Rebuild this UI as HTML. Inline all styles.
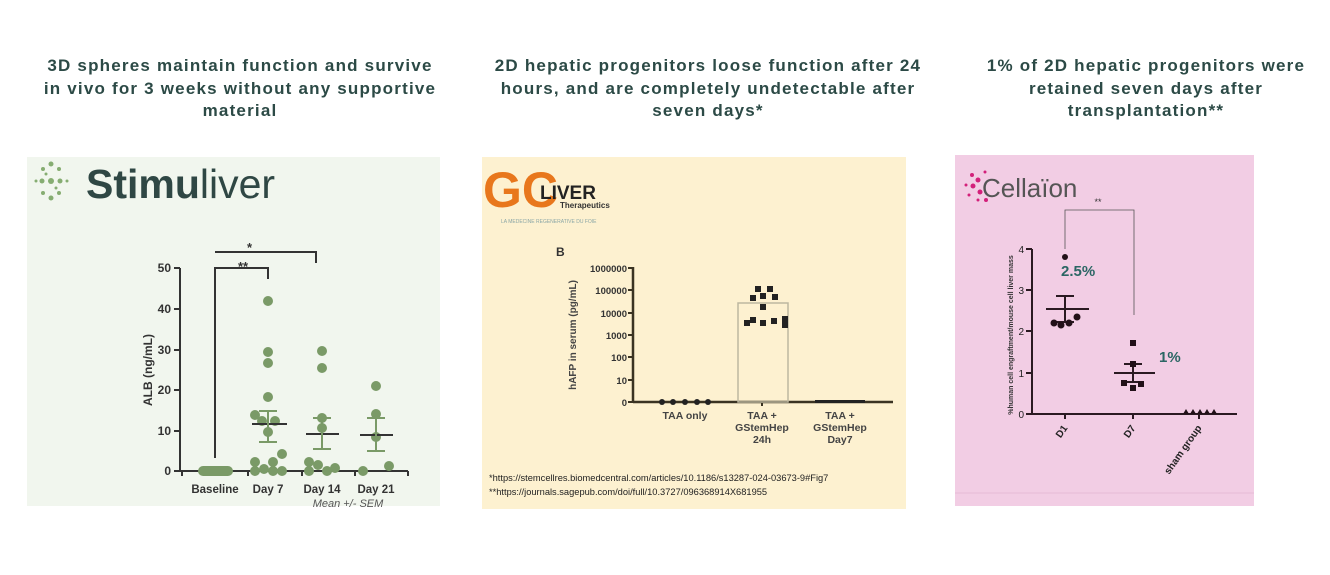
<!DOCTYPE html>
<html><head><style>
body{margin:0;width:1330px;height:575px;background:#fff;overflow:hidden;font-family:"Liberation Sans",sans-serif}
.t{position:absolute;text-align:center;font-weight:bold;font-size:17px;line-height:22.5px;color:#2c4a46;letter-spacing:1.2px}
</style></head><body>
<div class="t" style="left:40px;top:55px;width:400px">3D spheres maintain function and survive in vivo for 3 weeks without any supportive material</div>
<div class="t" style="left:491px;top:55px;width:434px">2D hepatic progenitors loose function after 24 hours, and are completely undetectable after seven days*</div>
<div class="t" style="left:976px;top:55px;width:340px">1% of 2D hepatic progenitors were retained seven days after transplantation**</div>
<svg width="1330" height="575" style="position:absolute;left:0;top:0" font-family="Liberation Sans, sans-serif">
<!-- Panel 1 -->
<rect x="27" y="157" width="413" height="349" fill="#f1f6ee"/>
<g fill="#86ad72">
<circle cx="51" cy="164" r="2.5"/><circle cx="43" cy="169" r="2"/><circle cx="59" cy="169" r="2"/><circle cx="42" cy="181" r="2.5"/><circle cx="51" cy="181" r="3"/><circle cx="60" cy="181" r="2.5"/><circle cx="36" cy="181" r="1.5"/><circle cx="67" cy="181" r="1.5"/><circle cx="43" cy="193" r="2"/><circle cx="59" cy="193" r="2"/><circle cx="51" cy="198" r="2.5"/><circle cx="46" cy="174" r="1.5"/><circle cx="56" cy="188" r="1.5"/>
</g>
<text x="86" y="198" font-size="41" font-weight="bold" fill="#2f4744">Stimu<tspan font-weight="normal">liver</tspan></text>
<g stroke="#333" stroke-width="2" fill="none">
<line x1="180" y1="268" x2="180" y2="472"/><line x1="180" y1="471" x2="408" y2="471"/>
<line x1="174" y1="268" x2="180" y2="268"/><line x1="174" y1="309" x2="180" y2="309"/><line x1="174" y1="350" x2="180" y2="350"/><line x1="174" y1="390" x2="180" y2="390"/><line x1="174" y1="431" x2="180" y2="431"/><line x1="174" y1="471" x2="180" y2="471"/>
<line x1="182" y1="471" x2="182" y2="476"/><line x1="248" y1="471" x2="248" y2="476"/><line x1="302" y1="471" x2="302" y2="476"/><line x1="355" y1="471" x2="355" y2="476"/><line x1="408" y1="471" x2="408" y2="476"/>
<polyline points="215,458 215,268 268,268 268,279"/>
<polyline points="215,252 316,252 316,263"/>
</g>
<g font-size="12" font-weight="bold" fill="#333" text-anchor="end">
<text x="171" y="272">50</text><text x="171" y="313">40</text><text x="171" y="354">30</text><text x="171" y="394">20</text><text x="171" y="435">10</text><text x="171" y="475">0</text>
</g>
<text x="247" y="252" font-size="13" font-weight="bold" fill="#333">*</text>
<text x="238" y="271" font-size="13" font-weight="bold" fill="#333">**</text>
<text transform="translate(152,370) rotate(-90)" font-size="12" font-weight="bold" fill="#333" text-anchor="middle">ALB (ng/mL)</text>
<g font-size="11.5" font-weight="bold" fill="#333" text-anchor="middle">
<text x="215" y="493">Baseline</text><text x="268" y="493">Day 7</text><text x="322" y="493">Day 14</text><text x="376" y="493">Day 21</text>
</g>
<text x="348" y="507" font-size="11" font-style="italic" fill="#555" text-anchor="middle">Mean +/- SEM</text>
<g fill="#7a9a67">
<rect x="198" y="466" width="35" height="10" rx="5"/>
<circle cx="268" cy="301" r="5"/><circle cx="268" cy="352" r="5"/><circle cx="268" cy="363" r="5"/><circle cx="268" cy="397" r="5"/><circle cx="255" cy="415" r="5"/><circle cx="262" cy="421" r="5"/><circle cx="275" cy="421" r="5"/><circle cx="268" cy="432" r="5"/><circle cx="282" cy="454" r="5"/><circle cx="255" cy="462" r="5"/><circle cx="273" cy="462" r="5"/><circle cx="255" cy="471" r="5"/><circle cx="264" cy="469" r="5"/><circle cx="273" cy="471" r="5"/><circle cx="282" cy="471" r="5"/>
<circle cx="322" cy="351" r="5"/><circle cx="322" cy="368" r="5"/><circle cx="322" cy="418" r="5"/><circle cx="322" cy="428" r="5"/><circle cx="309" cy="462" r="5"/><circle cx="318" cy="465" r="5"/><circle cx="335" cy="468" r="5"/><circle cx="309" cy="471" r="5"/><circle cx="327" cy="471" r="5"/>
<circle cx="376" cy="386" r="5"/><circle cx="376" cy="414" r="5"/><circle cx="376" cy="437" r="5"/><circle cx="389" cy="466" r="5"/><circle cx="363" cy="471" r="5"/>
</g>
<g stroke="#333" stroke-width="2"><line x1="252" y1="424" x2="287" y2="424"/><line x1="306" y1="434" x2="339" y2="434"/><line x1="360" y1="435" x2="393" y2="435"/></g>
<g stroke="#7a9a67" stroke-width="2"><line x1="268" y1="411" x2="268" y2="442"/><line x1="259" y1="411" x2="277" y2="411"/><line x1="259" y1="442" x2="277" y2="442"/>
<line x1="322" y1="418" x2="322" y2="449"/><line x1="313" y1="418" x2="331" y2="418"/><line x1="313" y1="449" x2="331" y2="449"/>
<line x1="376" y1="418" x2="376" y2="451"/><line x1="367" y1="418" x2="385" y2="418"/><line x1="367" y1="451" x2="385" y2="451"/></g>
<!-- Panel 2 -->
<rect x="482" y="157" width="424" height="352" fill="#fdf1d0"/>
<text x="483" y="207" font-size="50" font-weight="bold" fill="#e8771c">GC</text>
<text x="540" y="199" font-size="19" font-weight="bold" fill="#222">LIVER</text>
<text x="560" y="208" font-size="8" font-weight="bold" fill="#333">Therapeutics</text>
<text x="501" y="223" font-size="5" fill="#8aa6a6">LA MEDECINE REGENERATIVE DU FOIE</text>
<text x="556" y="256" font-size="12" font-weight="bold" fill="#333">B</text>
<g stroke="#3a3322" stroke-width="2.5" fill="none">
<line x1="633" y1="267" x2="633" y2="403"/><line x1="633" y1="402" x2="893" y2="402"/>
</g>
<g stroke="#3a3322" stroke-width="2"><line x1="628" y1="268" x2="634" y2="268"/><line x1="628" y1="290" x2="634" y2="290"/><line x1="628" y1="313" x2="634" y2="313"/><line x1="628" y1="335" x2="634" y2="335"/><line x1="628" y1="357" x2="634" y2="357"/><line x1="628" y1="380" x2="634" y2="380"/><line x1="628" y1="402" x2="634" y2="402"/><line x1="762" y1="402" x2="762" y2="406"/></g>
<g font-size="9.5" font-weight="bold" fill="#333" text-anchor="end">
<text x="627" y="272">1000000</text><text x="627" y="294">100000</text><text x="627" y="317">10000</text><text x="627" y="339">1000</text><text x="627" y="361">100</text><text x="627" y="384">10</text><text x="627" y="406">0</text>
</g>
<text transform="translate(576,335) rotate(-90)" font-size="10" font-weight="bold" fill="#444" text-anchor="middle">hAFP in serum (pg/mL)</text>
<rect x="738" y="303" width="50" height="99" fill="none" stroke="#bdb7a0" stroke-width="1.5"/>
<g fill="#222">
<circle cx="662" cy="402" r="3"/><circle cx="673" cy="402" r="3"/><circle cx="685" cy="402" r="3"/><circle cx="697" cy="402" r="3"/><circle cx="708" cy="402" r="3"/>
<rect x="755" y="286" width="6" height="6"/><rect x="767" y="286" width="6" height="6"/><rect x="750" y="295" width="6" height="6"/><rect x="760" y="293" width="6" height="6"/><rect x="772" y="294" width="6" height="6"/><rect x="760" y="304" width="6" height="6"/>
<rect x="744" y="320" width="6" height="6"/><rect x="750" y="317" width="6" height="6"/><rect x="760" y="320" width="6" height="6"/><rect x="771" y="318" width="6" height="6"/><rect x="782" y="316" width="6" height="6"/><rect x="782" y="322" width="6" height="6"/>
<rect x="815" y="400" width="50" height="3"/>
</g>
<g font-size="10.5" font-weight="bold" fill="#444" text-anchor="middle">
<text x="685" y="419">TAA only</text>
<text x="762" y="419">TAA +</text><text x="762" y="431">GStemHep</text><text x="762" y="443">24h</text>
<text x="840" y="419">TAA +</text><text x="840" y="431">GStemHep</text><text x="840" y="443">Day7</text>
</g>
<text x="489" y="481" font-size="9.3" fill="#222">*https://stemcellres.biomedcentral.com/articles/10.1186/s13287-024-03673-9#Fig7</text>
<text x="489" y="495" font-size="9.3" fill="#222">**https://journals.sagepub.com/doi/full/10.3727/096368914X681955</text>
<!-- Panel 3 -->
<rect x="955" y="155" width="299" height="351" fill="#f2cde4"/>
<g fill="#d3207a">
<circle cx="972" cy="175" r="2"/><circle cx="978" cy="180" r="2.5"/><circle cx="973" cy="186" r="2.5"/><circle cx="980" cy="192" r="2.5"/><circle cx="986" cy="200" r="2"/><circle cx="978" cy="200" r="1.5"/><circle cx="966" cy="185" r="1.5"/><circle cx="985" cy="172" r="1.5"/><circle cx="969" cy="195" r="1.5"/>
</g>
<text x="982" y="197" font-size="26" fill="#555">Cellaïon</text>
<polyline points="1065,249 1065,210 1134,210 1134,315" fill="none" stroke="#555" stroke-width="0.8"/>
<text x="1098" y="205" font-size="9" fill="#333" text-anchor="middle">**</text>
<g stroke="#2b1a22" stroke-width="2" fill="none">
<line x1="1032" y1="249" x2="1032" y2="415"/><line x1="1031" y1="414" x2="1237" y2="414"/>
<line x1="1026" y1="249" x2="1032" y2="249"/><line x1="1026" y1="290" x2="1032" y2="290"/><line x1="1026" y1="331" x2="1032" y2="331"/><line x1="1026" y1="373" x2="1032" y2="373"/><line x1="1026" y1="414" x2="1032" y2="414"/>
<line x1="1065" y1="414" x2="1065" y2="419"/><line x1="1133" y1="414" x2="1133" y2="419"/><line x1="1199" y1="414" x2="1199" y2="419"/>
<line x1="1046" y1="309" x2="1089" y2="309"/><line x1="1065" y1="296" x2="1065" y2="322"/><line x1="1056" y1="296" x2="1074" y2="296"/><line x1="1056" y1="322" x2="1074" y2="322"/>
<line x1="1114" y1="373" x2="1155" y2="373"/><line x1="1133" y1="364" x2="1133" y2="382"/><line x1="1124" y1="364" x2="1142" y2="364"/><line x1="1124" y1="382" x2="1142" y2="382"/>
</g>
<g font-size="10" fill="#222" text-anchor="end"><text x="1024" y="253">4</text><text x="1024" y="294">3</text><text x="1024" y="335">2</text><text x="1024" y="377">1</text><text x="1024" y="418">0</text></g>
<text transform="translate(1013,335) rotate(-90)" font-size="7" font-weight="bold" fill="#333" text-anchor="middle">%human cell engraftment/mouse cell liver mass</text>
<g fill="#221018">
<circle cx="1065" cy="257" r="3"/><circle cx="1054" cy="323" r="3.5"/><circle cx="1061" cy="325" r="3.5"/><circle cx="1069" cy="323" r="3.5"/><circle cx="1077" cy="317" r="3.5"/>
<rect x="1130" y="340" width="6" height="6"/><rect x="1130" y="361" width="6" height="6"/><rect x="1121" y="380" width="6" height="6"/><rect x="1130" y="385" width="6" height="6"/><rect x="1138" y="381" width="6" height="6"/>
<path d="M1183,414l3,-5l3,5zM1190,414l3,-5l3,5zM1197,414l3,-5l3,5zM1204,414l3,-5l3,5zM1211,414l3,-5l3,5z"/>
</g>
<text x="1061" y="276" font-size="15" font-weight="bold" fill="#2b6664">2.5%</text>
<text x="1159" y="362" font-size="15" font-weight="bold" fill="#2b6664">1%</text>
<g font-size="10" font-weight="bold" fill="#222" text-anchor="end">
<text transform="translate(1068,428) rotate(-55)">D1</text>
<text transform="translate(1136,428) rotate(-55)">D7</text>
<text transform="translate(1202,428) rotate(-55)">sham group</text>
</g>
<line x1="955" y1="493" x2="1254" y2="493" stroke="#e6bcd6" stroke-width="1"/>
</svg>
</body></html>
